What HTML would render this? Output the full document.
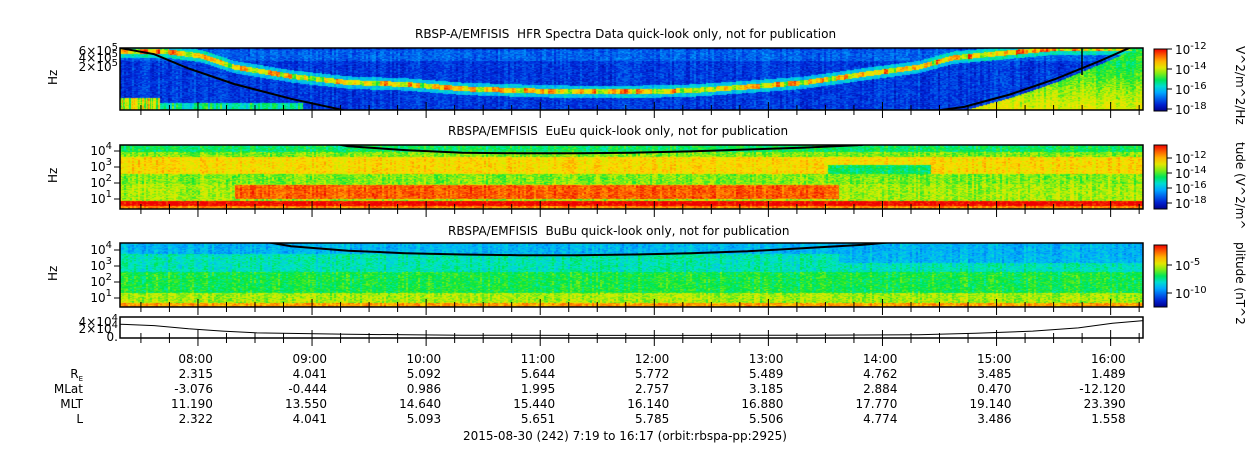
<!DOCTYPE html>
<html><head><meta charset="utf-8">
<style>
body{margin:0;background:#fff;width:1250px;height:449px;overflow:hidden;position:relative;font-family:"DejaVu Sans","Liberation Sans",sans-serif;color:#000}
.t{position:absolute;font-size:12px;white-space:nowrap}
canvas,svg{position:absolute;left:0;top:0}
svg text{font-family:"DejaVu Sans","Liberation Sans",sans-serif}
</style></head>
<body>
<canvas id="c" width="1250" height="449"></canvas>
<svg id="s" width="1250" height="449"></svg>
<div class="t" style="left:415px;top:27px">RBSP-A/EMFISIS&nbsp; HFR Spectra Data quick-look only, not for publication</div>
<div class="t" style="left:448px;top:124px">RBSPA/EMFISIS&nbsp; EuEu quick-look only, not for publication</div>
<div class="t" style="left:448px;top:224px">RBSPA/EMFISIS&nbsp; BuBu quick-look only, not for publication</div>
<div class="t" style="left:463px;top:429px">2015-08-30 (242) 7:19 to 16:17 (orbit:rbspa-pp:2925)</div>
<script>
// ---- data ----
const timeLabels=["08:00","09:00","10:00","11:00","12:00","13:00","14:00","15:00","16:00"];
const RE=["2.315","4.041","5.092","5.644","5.772","5.489","4.762","3.485","1.489"];
const MLat=["-3.076","-0.444","0.986","1.995","2.757","3.185","2.884","0.470","-12.120"];
const MLT=["11.190","13.550","14.640","15.440","16.140","16.880","17.770","19.140","23.390"];
const Lval=["2.322","4.041","5.093","5.651","5.785","5.506","4.774","3.486","1.558"];
// upper-hybrid line in HFR panel (fraction of panel height from top) vs hours from 7:19
const uhHours=[0.4,0.7,1.0,1.5,2.0,2.5,3.0,3.5,4.0,4.5,5.0,5.5,6.0,6.5,7.0,7.3,7.6,7.9,8.2,8.5];
const uhFrac=[0.05,0.12,0.3,0.45,0.55,0.58,0.65,0.68,0.7,0.7,0.68,0.62,0.55,0.42,0.3,0.15,0.1,0.05,0.0,0.0];
// plasma-line curve (black) fractions
const pHours=[0,0.3,0.6,1.0,1.5,2.0,2.5,3.0,3.5,4.0,4.5,5.0,5.5,6.0,6.5,7.0,7.4,7.8,8.2,8.6,8.97];
const pFracHFR=[0,0.1,0.33,0.58,0.82,1.02,1.15,1.25,1.3,1.3,1.3,1.3,1.25,1.2,1.12,1.05,0.95,0.75,0.5,0.2,-0.1];
const pFracE=[-0.9,-0.8,-0.6,-0.4,-0.15,0.02,0.08,0.12,0.13,0.13,0.12,0.1,0.07,0.04,0.0,-0.2,-0.4,-0.6,-0.8,-0.9,-1];
const pFracB=[-0.9,-0.6,-0.35,-0.1,0.05,0.12,0.16,0.18,0.19,0.19,0.18,0.16,0.13,0.08,0.03,-0.05,-0.3,-0.5,-0.7,-0.9,-1];
const ephHours=[0,0.3,0.6,0.9,1.2,2.0,3.0,4.0,5.0,6.0,7.0,7.5,8.0,8.4,8.7,8.97];
const ephVal=[2.8,2.5,1.8,1.3,0.9,0.6,0.4,0.35,0.35,0.4,0.5,0.8,1.3,2.0,3.0,3.6]; // x10^4
// ---- geometry ----
const X0=120,X1=1143,T0=0,T1=8.967;
const xs=h=>X0+(h-T0)/(T1-T0)*(X1-X0);
const P=[{y0:48,y1:110},{y0:145,y1:209},{y0:243,y1:307},{y0:317,y1:338}];
function interp(hs,vs,h){if(h<=hs[0])return vs[0];for(let i=1;i<hs.length;i++)if(h<=hs[i]){const f=(h-hs[i-1])/(hs[i]-hs[i-1]);return vs[i-1]+f*(vs[i]-vs[i-1]);}return vs[vs.length-1];}
function jet(v){v=Math.max(0,Math.min(1,v));const stops=[[0,[0,0,140]],[0.12,[0,40,220]],[0.3,[0,170,255]],[0.42,[0,230,200]],[0.52,[0,230,60]],[0.65,[200,240,0]],[0.75,[255,220,0]],[0.87,[255,120,0]],[1,[240,0,0]]];for(let i=1;i<stops.length;i++)if(v<=stops[i][0]){const a=stops[i-1],b=stops[i],f=(v-a[0])/(b[0]-a[0]);return a[1].map((c,k)=>Math.round(c+f*(b[1][k]-c)));}return stops[8][1];}
function hash(a,b){let h=(a*374761393+b*668265263)|0;h=(h^(h>>>13))*1274126177|0;return ((h^(h>>>16))>>>0)/4294967295;}
const cv=document.getElementById('c'),ctx=cv.getContext('2d');
function draw(pi,fn){const p=P[pi],H=p.y1-p.y0;const img=ctx.createImageData(X1-X0,H);for(let x=0;x<X1-X0;x++){const h=T0+x/(X1-X0)*(T1-T0);const cn=hash(x>>1,pi*999)-0.5;for(let y=0;y<H;y++){let v=fn(h,y/H,x,y)+0.12*(hash(x>>1,y+pi*500)-0.5)+0.08*cn;const c=jet(v);const i=(y*(X1-X0)+x)*4;img.data[i]=c[0];img.data[i+1]=c[1];img.data[i+2]=c[2];img.data[i+3]=255;}}ctx.putImageData(img,X0,p.y0);}
draw(0,(h,f,x)=>{let v=0.14;const u=interp(uhHours,uhFrac,h);const d=Math.abs(f-u);if(d<0.04)v=0.55+0.35*hash(x>>2,7);else if(d<0.1)v=0.35;if(f>0.8&&h<0.35)v=0.5+0.3*hash(x,3);else if(f>0.88&&h<1.6)v=0.35+0.2*hash(x>>1,5);if(h>7.2&&f>interp(pHours,pFracHFR,h)+0.05)v=0.45+0.25*f;if(f<0.2&&f>0.02)v+=0.06;return v;});
draw(1,(h,f,x)=>{let v;if(f<0.1)v=0.5;else if(f<0.18)v=0.6;else if(f<0.45)v=(h>6.2&&h<7.1&&f>0.3)?0.5:0.74;else if(f<0.6)v=0.6;else if(f<0.86){v=0.63;if(h>1.0&&h<6.3&&f>0.62&&f<0.84)v=0.9;}else if(f<0.95)v=1.0;else v=0.85;return v;});
draw(2,(h,f)=>{let v;if(f<0.16)v=0.32;else if(f<0.45)v=(h>6.3&&f<0.3)?0.33:0.43;else if(f<0.78)v=0.52;else if(f<0.93)v=0.63;else v=0.82;return v;});
// ---- svg overlays ----
const S=document.getElementById('s');const NS="http://www.w3.org/2000/svg";
function el(t,a,par){const e=document.createElementNS(NS,t);for(const k in a)e.setAttribute(k,a[k]);(par||S).appendChild(e);return e;}
const defs=el('defs',{});
P.forEach((p,i)=>{const c=el('clipPath',{id:'cp'+i},defs);el('rect',{x:X0,y:p.y0,width:X1-X0,height:p.y1-p.y0},c);});
function curve(pi,fr,name){const p=P[pi],H=p.y1-p.y0;let d="";pHours.forEach((h,i)=>{d+=(i?"L":"M")+xs(h).toFixed(1)+","+(p.y0+fr[i]*H).toFixed(1);});const g=el('g',{'clip-path':'url(#cp'+pi+')'});const e=el('path',{d:d,fill:'none',stroke:'#000','stroke-width':2},g);}
curve(0,pFracHFR,'plasma-frequency-hfr');curve(1,pFracE,'cyclotron-line-eueu');curve(2,pFracB,'cyclotron-line-bubu');
el('line',{x1:1082,y1:48,x2:1082,y2:75,stroke:'#000','stroke-width':1.5});
{const p=P[3];let d="";ephHours.forEach((h,i)=>{d+=(i?"L":"M")+xs(h).toFixed(1)+","+(p.y1-1-ephVal[i]/4.6*(p.y1-p.y0)).toFixed(1);});const e=el('path',{d:d,fill:'none',stroke:'#000','stroke-width':1});}
P.forEach((p,i)=>{const r=el('rect',{x:X0,y:p.y0,width:X1-X0,height:p.y1-p.y0,fill:'none',stroke:'#000','stroke-width':1.5});});
for(let k=0;k<40;k++){const h=(41+(k-2)*15)/60;if(h<0||h>T1)continue;const x=xs(h);const major=((k-2)%4===0);P.forEach(p=>{el('line',{x1:x,y1:p.y1,x2:x,y2:p.y1-(major?8:5),stroke:'#000'});el('line',{x1:x,y1:p.y1,x2:x,y2:p.y1+(major?8:5),stroke:'#000'});});}
// colorbars
const E=s=>'10<tspan dy="-5" font-size="10">'+s+'</tspan>';
const cbs=[[49,111,[E('-12'),E('-14'),E('-16'),E('-18')],[54,74,94,114],'V^2/m^2/Hz'],[145,209,[E('-12'),E('-14'),E('-16'),E('-18')],[163,178,193,208],'tude (V^2/m^'],[245,307,[E('-5'),E('-10')],[270,298],'plitude (nT^2']];
const gr=el('linearGradient',{id:'jet',x1:0,y1:1,x2:0,y2:0},defs);for(let i=0;i<=10;i++){const c=jet(i/10);el('stop',{offset:i/10,'stop-color':'rgb('+c+')'},gr);}
cbs.forEach((c,i)=>{const r=el('rect',{x:1154,y:c[0],width:13,height:c[1]-c[0],fill:'url(#jet)',stroke:'#000'});
c[3].forEach((y,j)=>{el('line',{x1:1167,y1:y-5,x2:1172,y2:y-5,stroke:'#000'});const t=el('text',{x:1175,y:y,'font-size':12});t.innerHTML=c[2][j];});
const lt=el('text',{x:0,y:0,'font-size':12,transform:'translate(1236,'+(c[0]-3)+') rotate(90)'});lt.textContent=c[4];});
function ylab(x,y,html){const t=el('text',{x:x,y:y,'font-size':12,'text-anchor':'end'});t.innerHTML=html;return t;}
ylab(118,55,'6×10<tspan dy="-5" font-size="10">5</tspan>');ylab(118,62,'4×10<tspan dy="-5" font-size="10">5</tspan>');ylab(118,71,'2×10<tspan dy="-5" font-size="10">5</tspan>');
[[1,[151,167,183,199]],[2,[250,266,282,298]]].forEach(([pi,ys])=>{ys.forEach((y,j)=>{ylab(112,y+4,'10<tspan dy="-6" font-size="10">'+(4-j)+'</tspan>');el('line',{x1:114,y1:y,x2:120,y2:y,stroke:'#000'});});});
ylab(118,326,'4×10<tspan dy="-5" font-size="10">4</tspan>');ylab(118,333,'2×10<tspan dy="-5" font-size="10">4</tspan>');ylab(118,341,'0.');
[[79,'Hz'],[177,'Hz'],[275,'Hz']].forEach(([y,s])=>{const t=el('text',{'font-size':12,transform:'translate(57,'+(y+6)+') rotate(-90)'});t.textContent=s;});
const rows=[timeLabels,RE,MLat,MLT,Lval];const ry=[363,378,393,408,423];
rows.forEach((arr,ri)=>{arr.forEach((s,k)=>{const x=xs((41+k*60)/60);const t=el('text',{x:x+15,y:ry[ri],'font-size':12,'text-anchor':'end'});t.textContent=s;});});
['R','MLat','MLT','L'].forEach((s,i)=>{const t=el('text',{x:83,y:ry[i+1],'font-size':12,'text-anchor':'end'});t.innerHTML=s+(i==0?'<tspan font-size="7" dy="3">E</tspan>':'');});
</script>
</body></html>
